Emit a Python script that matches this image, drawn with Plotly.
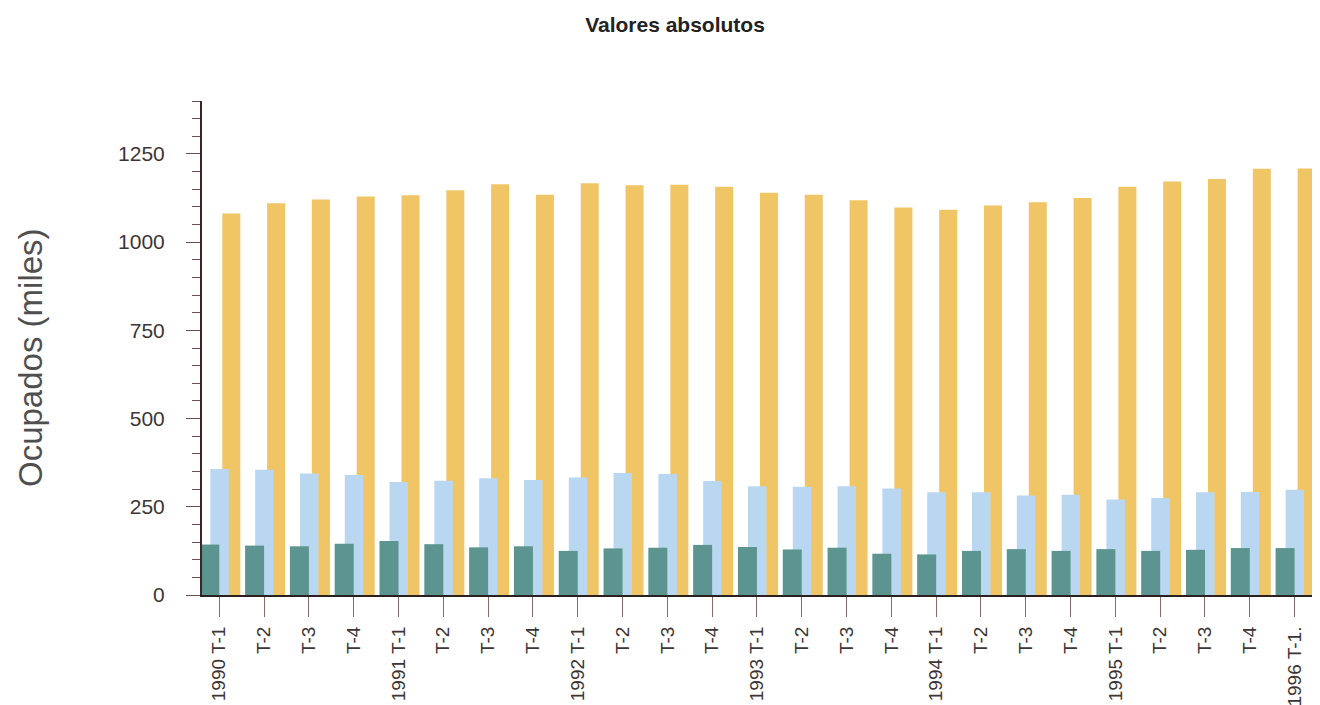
import plotly.graph_objects as go

# quarter labels (x axis)
labels = ["1990 T-1", "T-2", "T-3", "T-4",
          "1991 T-1", "T-2", "T-3", "T-4",
          "1992 T-1", "T-2", "T-3", "T-4",
          "1993 T-1", "T-2", "T-3", "T-4",
          "1994 T-1", "T-2", "T-3", "T-4",
          "1995 T-1", "T-2", "T-3", "T-4",
          "1996 T-1."]

# values (miles)
teal_vals = [143, 140, 138, 145, 153, 144, 135, 138, 125, 132, 134, 142, 136,
             129, 134, 117, 115, 125, 130, 125, 130, 125, 128, 133, 133]
blue_vals = [357, 355, 344, 340, 320, 324, 331, 326, 333, 346, 343, 323, 308,
             307, 308, 302, 291, 291, 282, 284, 271, 275, 291, 292, 298]
gold_vals = [1081, 1110, 1121, 1129, 1133, 1147, 1164, 1134, 1167, 1161, 1163,
             1157, 1140, 1134, 1119, 1098, 1092, 1104, 1113, 1125, 1157, 1172,
             1179, 1208, 1209]

pos = list(range(len(labels)))

fig = go.Figure()

# back to front: gold, light blue, teal
fig.add_trace(go.Bar(x=pos, y=gold_vals, offset=0.067, width=0.402,
                     marker=dict(color="#F0C566", line=dict(width=0)),
                     name="Serie 3", showlegend=False))
fig.add_trace(go.Bar(x=pos, y=blue_vals, offset=-0.2, width=0.413,
                     marker=dict(color="#BAD7F2", line=dict(width=0)),
                     name="Serie 2", showlegend=False))
fig.add_trace(go.Bar(x=pos, y=teal_vals, offset=-0.424, width=0.424,
                     marker=dict(color="#5C948F", line=dict(width=0)),
                     name="Serie 1", showlegend=False))

fnt = "Liberation Sans, Arial, sans-serif"

# the page body adds 8px, so margins are shifted by that amount
fig.update_layout(
    width=1320, height=705,
    margin=dict(l=194, r=11, t=93, b=118, autoexpand=False),
    paper_bgcolor="white", plot_bgcolor="white",
    barmode="overlay",
    font=dict(family=fnt, color="#3d3535"),
    title=dict(text="<b>Valores absolutos</b>", x=667 / 1320, xanchor="center",
               y=1 - 17 / 705, yanchor="middle",
               font=dict(family=fnt, size=21, color="#222222")),
    xaxis=dict(
        range=[-0.386, 24.5], automargin=False,
        tickmode="array", tickvals=pos, ticktext=labels,
        tickangle=-90, tickfont=dict(size=19, color="#3d3535"),
        ticks="outside", ticklen=20, tickwidth=1, tickcolor="#8a6a6a",
        ticklabelstandoff=2,
        showline=True, linecolor="#2a2020", linewidth=2,
        showgrid=False, zeroline=False,
    ),
    yaxis=dict(
        range=[0, 1400], automargin=False,
        tickmode="linear", tick0=0, dtick=250,
        tickfont=dict(size=21, color="#3d3535"),
        ticks="outside", ticklen=14, tickwidth=1, tickcolor="#6b5050",
        ticklabelstandoff=17,
        minor=dict(dtick=50, ticks="outside", ticklen=8, tickwidth=1,
                   tickcolor="#6b5050", showgrid=False),
        showline=True, linecolor="#3a2626", linewidth=2,
        showgrid=False, zeroline=False,
    ),
)

fig.add_annotation(text="Ocupados (miles)", textangle=-90,
                   xref="paper", yref="paper",
                   x=(30 - 202) / 1115, y=(595 - 358) / 494,
                   xanchor="center", yanchor="middle", showarrow=False,
                   font=dict(family=fnt, size=33, color="#4f4f4f"))

fig.write_html("out.html")
